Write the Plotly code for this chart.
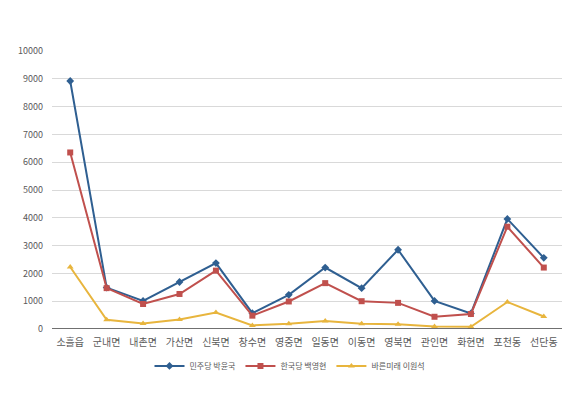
import plotly.graph_objects as go

categories = ["소흘읍", "군내면", "내촌면", "가산면", "신북면", "창수면", "영중면",
              "일동면", "이동면", "영북면", "관인면", "화현면", "포천동", "선단동"]
minju = [8920, 1490, 1010, 1690, 2370, 570, 1230, 2210, 1470, 2850, 1010, 560, 3960, 2560]
hanguk = [6350, 1470, 900, 1260, 2100, 480, 990, 1650, 1000, 940, 440, 540, 3680, 2210]
bareun = [2230, 330, 200, 340, 590, 130, 190, 290, 190, 170, 90, 80, 970, 450]
series_names = ["민주당 박윤국", "한국당 백영현", "바른미래 이원석"]
y_ticks = [0, 1000, 2000, 3000, 4000, 5000, 6000, 7000, 8000, 9000, 10000]
y_tick_labels = [str(v) for v in y_ticks]

colors = ["#2f5f91", "#c0504d", "#e8b53d"]
symbols = ["diamond", "square", "triangle-up"]

fig = go.Figure()
for name, vals, c, s in zip(series_names, [minju, hanguk, bareun], colors, symbols):
    fig.add_trace(go.Scatter(
        x=categories, y=vals, name=name, mode="lines+markers",
        line=dict(color=c, width=2),
        marker=dict(symbol=s, size=6, color=c),
    ))

font = "Noto Sans CJK KR, Noto Sans, sans-serif"
fig.update_layout(
    width=580, height=393,
    margin=dict(l=52, r=18, t=51, b=64, autoexpand=False),
    paper_bgcolor="white", plot_bgcolor="white",
    font=dict(family=font, size=10, color="#595959"),
    showlegend=True,
    legend=dict(orientation="h", xref="container", yref="container",
                x=0.5, xanchor="center", y=0.069, yanchor="middle",
                font=dict(size=8, color="#595959"), itemwidth=30,
                tracegroupgap=0),
    xaxis=dict(type="category", range=[-0.5, 13.5], showgrid=False,
               showline=False, ticks="", tickfont=dict(size=10, color="#595959"),
               zeroline=False, ticklabelstandoff=6),
    yaxis=dict(range=[0, 10000], tickvals=y_ticks, ticktext=y_tick_labels,
               showgrid=True, gridcolor="#d9d9d9", gridwidth=1, zeroline=False,
               showline=False, ticks="", tickfont=dict(size=9, color="#595959"),
               ticklabelstandoff=8),
)
fig.add_shape(type="line", xref="paper", yref="y", x0=0, x1=1, y0=0, y1=0,
              line=dict(color="#404040", width=1.5))
fig.write_html("out.html",
               config={"displayModeBar": False},
               post_script="document.body.style.margin='0';document.body.style.overflow='hidden';")
